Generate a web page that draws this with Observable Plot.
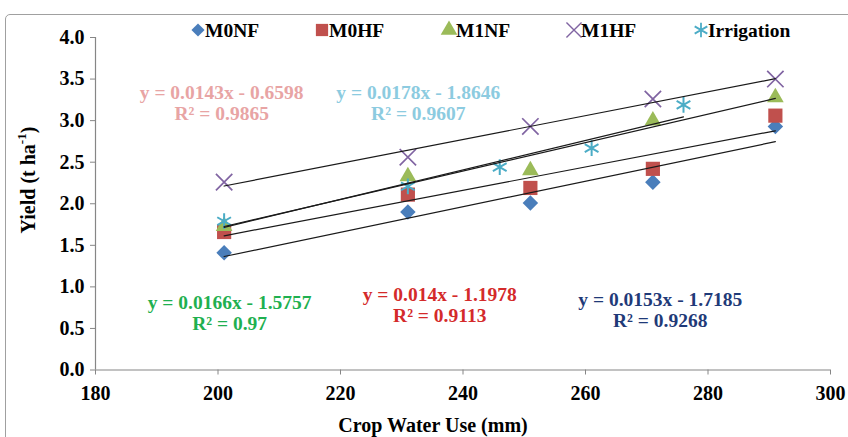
<!DOCTYPE html>
<html><head><meta charset="utf-8">
<script src="https://cdn.jsdelivr.net/npm/d3@7"></script>
<script src="https://cdn.jsdelivr.net/npm/@observablehq/plot@0.6"></script>
<style>
body{margin:0;background:#fff;}
#wrap{position:relative;width:848px;height:437px;overflow:hidden;background:#fff;}
#frame{position:absolute;left:5px;top:14px;width:900px;height:500px;border:1.5px solid #a0a0a0;border-radius:5px;pointer-events:none;}
#wrap svg{position:absolute;left:0;top:0;}
</style></head><body><div id="wrap"><div id="frame"></div></div>
<script>
// ---- data ----
const series = ["M0NF", "M0HF", "M1NF", "M1HF", "Irrigation"];
const cwuMain = [201, 231, 251, 271, 291];
const cwuIrr = [201, 231, 246, 261, 276];
const yM0NF = [1.41, 1.90, 2.01, 2.26, 2.93];
const yM0HF = [1.66, 2.11, 2.19, 2.42, 3.06];
const yM1NF = [1.73, 2.33, 2.40, 3.00, 3.28];
const yM1HF = [2.26, 2.56, 2.93, 3.26, 3.50];
const yIrr = [1.79, 2.21, 2.44, 2.67, 3.19];
const colors = ["#4a7ebb", "#c0504d", "#9bbb59", "#8064a2", "#4bacc6"];
const xTicks = [180, 200, 220, 240, 260, 280, 300];
const yTicks = [0, 0.5, 1, 1.5, 2, 2.5, 3, 3.5, 4];
const eqText = [
  "y = 0.0143x - 0.6598\nR² = 0.9865",
  "y = 0.0178x - 1.8646\nR² = 0.9607",
  "y = 0.0166x - 1.5757\nR² = 0.97",
  "y = 0.014x - 1.1978\nR² = 0.9113",
  "y = 0.0153x - 1.7185\nR² = 0.9268"
];
const eqX = [200.6, 232.7, 201.9, 236.2, 272.2];
const eqY = [3.21, 3.21, 0.69, 0.78, 0.73];
const eqColor = ["#e8a4a4", "#8ccbe0", "#1fb050", "#d42a2a", "#1f3a78"];

const yVals = [yM0NF, yM0HF, yM1NF, yM1HF, yIrr];
const rows = [];
series.forEach((s, i) => {
  const xs = s === "Irrigation" ? cwuIrr : cwuMain;
  xs.forEach((x, j) => rows.push({series: s, x, y: yVals[i][j]}));
});
const eqs = eqText.map((t, i) => ({t, x: eqX[i], y: eqY[i], c: eqColor[i]}));

const font = "'Liberation Serif','Times New Roman',serif";
const only = s => rows.filter(d => d.series === s);

const chart = Plot.plot({
  width: 848, height: 437,
  marginLeft: 95, marginRight: 18, marginTop: 37, marginBottom: 67.5,
  style: {fontFamily: font, fontWeight: "bold", fontSize: "20px", color: "#000", background: "transparent"},
  x: {domain: [180, 300]},
  y: {domain: [0, 4]},
  marks: [
    Plot.axisX({ticks: xTicks, tickFormat: d => d, tickSize: 5, tickPadding: 11, stroke: "#868686", label: null}),
    Plot.axisY({ticks: yTicks, tickFormat: d3.format(".1f"), tickSize: 5, tickPadding: 6, stroke: "#868686", label: null}),
    Plot.ruleX([180], {stroke: "#868686", strokeWidth: 1.2}),
    Plot.ruleY([0], {stroke: "#868686", strokeWidth: 1.2}),
    Plot.dot(only("M0NF"), {x: "x", y: "y", symbol: "diamond2", r: 7, fill: colors[0], stroke: "none"}),
    Plot.dot(only("M0HF"), {x: "x", y: "y", symbol: "square", r: 8, fill: colors[1], stroke: "none"}),
    Plot.dot(only("M1NF"), {x: "x", y: "y", symbol: "triangle", r: 6.2, fill: colors[2], stroke: "none"}),
    Plot.dot(only("M1HF"), {x: "x", y: "y", symbol: "times", r: 7.5, fill: "none", stroke: colors[3], strokeWidth: 1.7}),
    Plot.dot(only("Irrigation"), {x: "x", y: "y", symbol: "asterisk", r: 7.5, fill: "none", stroke: colors[4], strokeWidth: 2}),
    Plot.linearRegressionY(rows, {x: "x", y: "y", z: "series", stroke: "#1a1a1a", strokeWidth: 1.2, ci: 0}),
    Plot.text(eqs, {x: "x", y: "y", text: "t", fill: "c", fontSize: 19.5, lineHeight: 1.08, fontWeight: "bold"})
  ]
});

const svg = d3.select(chart);
// axis titles
svg.append("text")
  .attr("transform", "translate(433,425)")
  .attr("text-anchor", "middle").attr("dominant-baseline", "central")
  .attr("font-size", 20).attr("font-weight", "bold").attr("fill", "#000")
  .text("Crop Water Use (mm)");
const yl = svg.append("text")
  .attr("transform", "translate(28,180) rotate(-90)")
  .attr("text-anchor", "middle").attr("dominant-baseline", "central")
  .attr("font-size", 20).attr("font-weight", "bold").attr("fill", "#000");
yl.append("tspan").text("Yield (t ha");
yl.append("tspan").attr("font-size", 13).attr("dy", -7).text("-1");
yl.append("tspan").attr("dy", 7).text(")");

// legend
const legX = [198, 322, 449, 574, 701];
const legSym = [d3.symbolDiamond2, d3.symbolSquare, d3.symbolTriangle, d3.symbolTimes, d3.symbolAsterisk];
const legSize = [110, 150, 120, 150, 150];
const g = svg.append("g").attr("font-size", 19.5).attr("font-weight", "bold").attr("text-anchor", "start");
series.forEach((s, i) => {
  const filled = i < 3;
  g.append("path")
    .attr("transform", `translate(${legX[i]},30)`)
    .attr("d", d3.symbol(legSym[i], legSize[i])())
    .attr("fill", filled ? colors[i] : "none")
    .attr("stroke", filled ? "none" : colors[i])
    .attr("stroke-width", i === 3 ? 1.4 : 1.8);
  g.append("text").attr("x", legX[i] + 7).attr("y", 30)
    .attr("text-anchor", "start")
    .attr("dominant-baseline", "central").attr("fill", "#000").text(s);
});

document.getElementById("wrap").appendChild(chart);
</script></body></html>
